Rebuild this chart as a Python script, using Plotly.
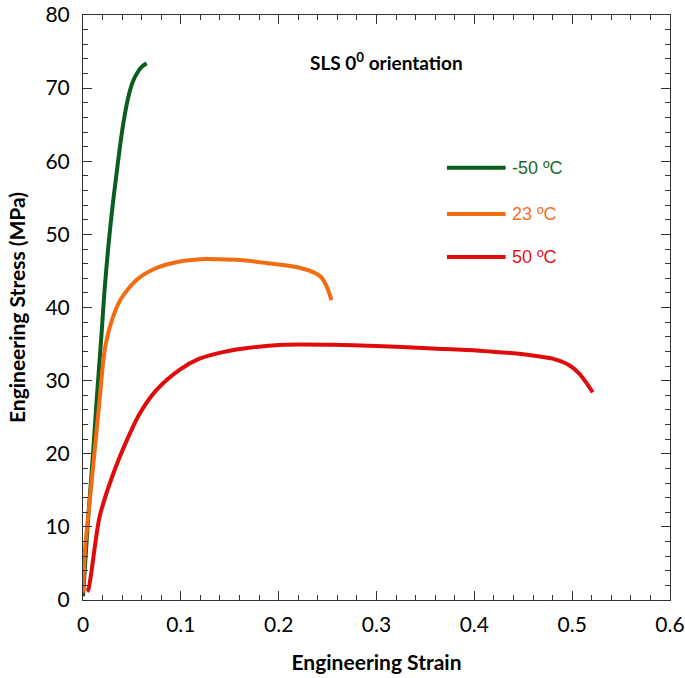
import plotly.graph_objects as go

# -50 C
strain_m50 = [0.0, 0.002, 0.0054, 0.0105, 0.014, 0.019, 0.022, 0.026, 0.030, 0.034, 0.037, 0.041, 0.046, 0.051, 0.056, 0.060, 0.065]
stress_m50 = [0.5, 4.6, 11.4, 20.5, 27.4, 36.5, 42.3, 48.5, 53.6, 58.0, 61.2, 65.0, 68.6, 70.9, 72.2, 72.9, 73.4]

# 23 C
strain_23 = [0.0, 0.002, 0.007, 0.012, 0.017, 0.022, 0.028, 0.038, 0.055, 0.075, 0.099, 0.120, 0.140, 0.160, 0.187, 0.215, 0.232, 0.243, 0.249, 0.254]
stress_23 = [1.0, 6.8, 13.7, 20.5, 27.4, 34.0, 37.6, 41.0, 43.8, 45.4, 46.3, 46.6, 46.6, 46.5, 46.1, 45.6, 45.0, 44.2, 42.9, 41.0]

# 50 C
strain_50 = [0.004, 0.0054, 0.017, 0.031, 0.045, 0.058, 0.075, 0.099, 0.119, 0.143, 0.170, 0.204, 0.255, 0.307, 0.357, 0.405, 0.456, 0.480, 0.497, 0.507, 0.514, 0.521]
stress_50 = [1.2, 1.4, 11.4, 17.3, 21.9, 25.5, 28.7, 31.5, 33.0, 33.9, 34.5, 34.9, 34.9, 34.7, 34.4, 34.1, 33.5, 33.0, 32.1, 31.0, 29.8, 28.4]

series_names = ["-50 ºC", "23 ºC", "50 ºC"]
colors = ["#0b5e1c", "#f26d12", "#e00b0b"]
text_colors = ["#1b6b2a", "#f2721e", "#e01414"]

x_ticks = [0, 0.1, 0.2, 0.3, 0.4, 0.5, 0.6]
x_tick_labels = ["0", "0.1", "0.2", "0.3", "0.4", "0.5", "0.6"]
y_ticks = [0, 10, 20, 30, 40, 50, 60, 70, 80]

fig = go.Figure()
for xs, ys, name, c in zip([strain_m50, strain_23, strain_50], [stress_m50, stress_23, stress_50], series_names, colors):
    fig.add_trace(go.Scatter(x=xs, y=ys, mode="lines", name=name,
                             line=dict(color=c, width=4, shape="spline", smoothing=0.8),
                             showlegend=False, hoverinfo="skip"))

# manual legend
leg_y = [59.1, 52.8, 46.9]
for name, c, tc, yv in zip(series_names, colors, text_colors, leg_y):
    fig.add_shape(type="line", xref="x", yref="y", x0=0.372, x1=0.432, y0=yv, y1=yv,
                  line=dict(color=c, width=4))
    fig.add_annotation(x=0.436, y=yv, xref="x", yref="y", text=name, showarrow=False,
                       xanchor="left", yanchor="middle",
                       font=dict(family="Liberation Sans, Arial", size=18, color=tc))

fig.add_annotation(x=0.31, y=73.6, xref="x", yref="y", text="<b>SLS 0<sup>0</sup> orientation</b>",
                   showarrow=False, xanchor="center", yanchor="middle",
                   font=dict(family="Lato", size=19, color="black"))

axis_common = dict(showline=True, linecolor="#333333", linewidth=1, mirror="allticks",
                   ticks="inside", tickcolor="#333333", ticklen=9, tickwidth=1,
                   showgrid=False, zeroline=False, automargin=False,
                   tickfont=dict(family="Lato", size=21, color="black"))

fig.update_xaxes(range=[0, 0.6], tickvals=x_ticks, ticktext=x_tick_labels,
                 minor=dict(dtick=0.02, ticks="inside", ticklen=5, tickcolor="#333333", showgrid=False),
                 ticklabelstandoff=6,
                 title=dict(text="<b>Engineering Strain</b>", font=dict(family="Lato", size=21, color="black"), standoff=20),
                 **axis_common)
fig.update_yaxes(range=[0, 80], tickvals=y_ticks,
                 minor=dict(dtick=2, ticks="inside", ticklen=5, tickcolor="#333333", showgrid=False),
                 ticklabelstandoff=8,
                 title=dict(text="<b>Engineering Stress (MPa)</b>", font=dict(family="Lato", size=21, color="black"), standoff=14),
                 **axis_common)

fig.update_layout(width=685, height=678, margin=dict(l=83, r=15, t=15, b=78),
                  plot_bgcolor="white", paper_bgcolor="white")

fig.write_html("out.html", config={"displayModeBar": False},
               post_script="document.body.style.margin='0';document.body.style.overflow='hidden';")
